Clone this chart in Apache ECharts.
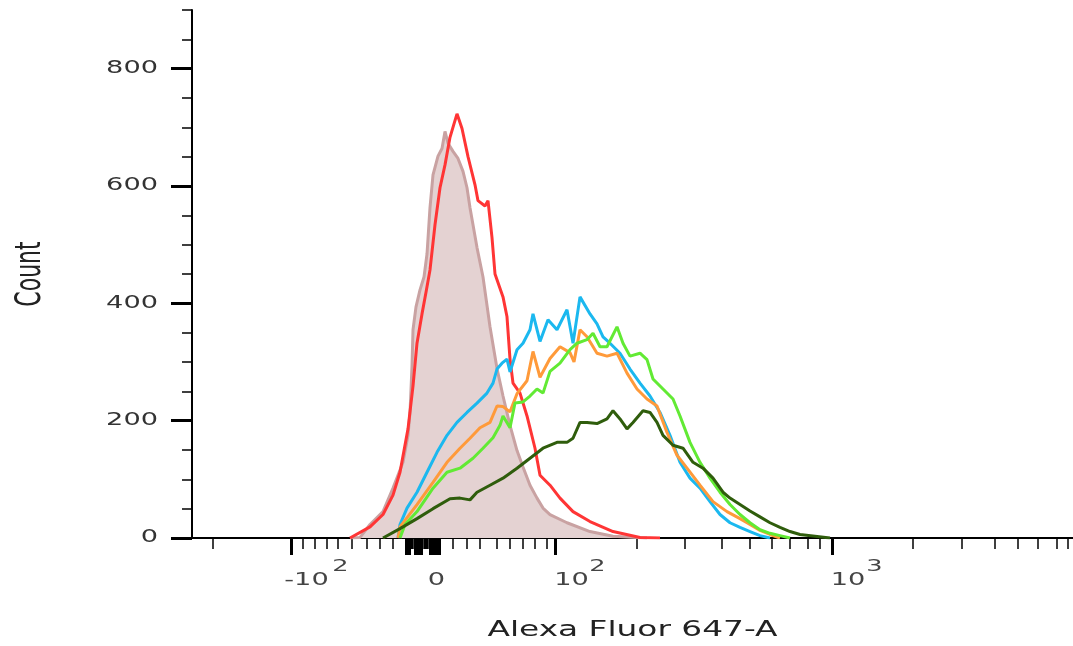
<!DOCTYPE html>
<html>
<head>
<meta charset="utf-8">
<script src="https://cdn.jsdelivr.net/npm/echarts@6/dist/echarts.min.js"></script>
<style>
html,body{margin:0;padding:0;background:#fff;}
#chart{width:1073px;height:646px;}
</style>
</head>
<body>
<div id="chart"></div>
<script>
// X values are display channels of the biexponential Alexa Fluor 647-A scale (0..881)
const xMin = 0, xMax = 881;
const yMin = 0, yMax = 900;

// tick labels (mantissa and exponent) and their positions (channels)
const xLabelPos = [114.5, 244.5, 379.5, 656];
const xLabelText = ['-10', '0', '10', '10'];
const xExpPos = [148.5, 405.5, 682.5];
const xExpText = ['2', '2', '3'];
const xMajorTicks = [99, 214, 217, 223, 226, 229, 238, 241, 244, 247, 363, 640];
const xMinorTicks = [21, 111, 123, 135, 146, 160, 175, 188, 201, 219, 220, 221, 232, 233, 234, 235, 236,
  261, 275, 288, 305, 318, 331, 343, 355, 445, 493, 530, 558, 580, 598, 616, 628,
  721, 770, 803, 826, 846, 865, 876];
const yLabels = [0, 200, 400, 600, 800];
const yMinorTicks = [50, 100, 150, 250, 300, 350, 450, 500, 550, 650, 700, 750, 850, 900];

// series: channel positions and counts
const shadedX = [158,168,178,191,201,211,216,218,220,221,224,228,232,235,238,241,246,250,253,256,261,266,271,275,278,285,291,298,305,311,318,325,331,338,345,351,358,375,398,421,455];
const shadedY = [0,1,23,45,85,129,175,214,293,355,394,423,445,484,563,619,651,664,693,673,659,647,625,597,563,495,445,360,289,242,192,149,121,90,68,51,40,26,11,3,0];

const redX = [158,178,191,201,208,216,221,225,230,234,238,243,248,253,258,262,265,270,276,283,286,293,296,300,303,311,315,318,321,328,335,343,348,358,368,381,398,421,448,468];
const redY = [0,19,40,73,112,186,259,332,382,419,457,534,597,636,683,706,723,698,650,602,575,566,575,512,450,411,377,305,264,247,208,153,107,90,68,45,28,11,1,0];

const blueX = [206,208,215,225,235,245,255,265,275,285,295,301,305,310,315,318,325,331,338,341,348,356,365,375,381,388,398,405,411,418,428,438,448,458,468,478,488,498,508,518,528,538,548,558,568,578];
const blueY = [0,23,51,78,112,146,175,197,214,230,247,264,288,298,305,283,321,332,355,382,335,372,355,389,332,411,382,365,343,332,315,288,264,242,214,175,129,102,85,62,40,26,18,11,4,0];

const orangeX = [206,208,225,241,255,268,278,288,298,305,311,318,325,335,341,348,358,368,378,382,388,395,405,415,425,435,445,455,465,475,485,495,508,521,535,548,558,568,578,588];
const orangeY = [0,19,57,95,129,153,170,188,197,225,224,215,246,268,318,274,306,326,316,300,355,343,315,310,315,281,254,237,225,180,141,119,90,62,45,33,23,13,6,0];

const limeX = [208,213,225,241,255,268,281,291,301,308,311,318,323,331,338,345,351,358,368,378,385,395,401,408,415,425,431,438,448,455,461,471,481,488,498,508,518,528,538,548,558,568,578,588,598];
const limeY = [0,23,45,85,112,119,136,153,171,192,208,188,230,232,242,254,247,284,298,321,332,338,349,326,326,360,332,310,315,304,271,254,237,208,163,129,102,78,57,40,26,14,8,4,0];

const darkX = [191,208,225,241,258,268,278,285,298,311,325,338,351,365,375,381,388,395,405,415,421,428,435,441,451,458,465,471,481,491,501,511,521,531,538,548,558,568,578,588,598,608,623,638];
const darkY = [0,16,33,50,67,68,65,78,90,102,119,136,153,163,163,170,197,197,195,203,217,203,186,197,217,214,197,175,158,153,129,119,102,78,68,57,46,36,26,18,11,6,3,0];

function pairs(xs, ys) { return xs.map((x, i) => [x, ys[i]]); }

// The reference's lettering is horizontally stretched; reproduce by widening glyphs about their anchor.
const textStretch = 1.6;
(function () {
  const proto = CanvasRenderingContext2D.prototype;
  const orig = proto.fillText;
  proto.fillText = function (t, x, y, mw) {
    const m = this.getTransform();
    const ax = m.a * x + m.c * y + m.e, ay = m.b * x + m.d * y + m.f;
    this.save();
    this.setTransform(textStretch, 0, 0, 1, ax - textStretch * ax, 0);
    this.transform(m.a, m.b, m.c, m.d, m.e, m.f);
    if (mw === undefined) orig.call(this, t, x, y); else orig.call(this, t, x, y, mw);
    this.restore();
  };
})();

const font = 'DejaVu Sans';
const chart = echarts.init(document.getElementById('chart'), null, {renderer: 'canvas'});

function lineSeries(name, xs, ys, color, width, extra) {
  return Object.assign({
    name: name, type: 'line', data: pairs(xs, ys), showSymbol: false, symbol: 'none',
    xAxisIndex: 0, yAxisIndex: 0, animation: false,
    lineStyle: {color: color, width: width}, itemStyle: {color: color}
  }, extra || {});
}

chart.setOption({
  animation: false,
  grid: {left: 192, right: 0, top: 10, bottom: 103, containLabel: false},
  xAxis: [
    {
      type: 'value', min: xMin, max: xMax, position: 'bottom',
      name: 'Alexa Fluor 647-A', nameLocation: 'middle', nameGap: 82,
      nameTextStyle: {fontFamily: font, fontSize: 20.5, color: '#222'},
      axisLine: {show: true, onZero: false, lineStyle: {color: '#a8b878', width: 2}},
      axisTick: {show: true, customValues: xMajorTicks, length: 17, lineStyle: {color: '#000', width: 3}},
      axisLabel: {
        show: true, customValues: xLabelPos, margin: 34,
        fontFamily: font, fontSize: 17, color: '#444',
        formatter: function (v) { const i = xLabelPos.indexOf(v); return i < 0 ? '' : xLabelText[i]; }
      },
      splitLine: {show: false}
    },
    {
      type: 'value', min: xMin, max: xMax, position: 'bottom',
      axisLine: {show: false},
      axisTick: {show: true, customValues: xMinorTicks, length: 11, lineStyle: {color: '#000', width: 1.5}},
      axisLabel: {
        show: true, customValues: xExpPos, margin: 21,
        fontFamily: font, fontSize: 16, color: '#444',
        formatter: function (v) { const i = xExpPos.indexOf(v); return i < 0 ? '' : xExpText[i]; }
      },
      splitLine: {show: false}
    },
    {
      type: 'value', min: xMin, max: xMax, position: 'top',
      axisLine: {show: true, lineStyle: {color: '#000', width: 2}},
      axisTick: {show: false}, axisLabel: {show: false}, splitLine: {show: false}
    }
  ],
  yAxis: [
    {
      type: 'value', min: yMin, max: yMax, position: 'left',
      name: 'Count', nameLocation: 'middle', nameGap: 150, nameRotate: 90,
      nameTextStyle: {fontFamily: font, fontSize: 22, color: '#222'},
      axisLine: {show: true, onZero: false, lineStyle: {color: '#000', width: 2}},
      axisTick: {show: true, customValues: yLabels, length: 21, lineStyle: {color: '#000', width: 3}},
      axisLabel: {show: true, customValues: yLabels, margin: 34, fontFamily: font, fontSize: 17, color: '#333'},
      splitLine: {show: false}
    },
    {
      type: 'value', min: yMin, max: yMax, position: 'left',
      axisLine: {show: false},
      axisTick: {show: true, customValues: yMinorTicks, length: 10, lineStyle: {color: '#000', width: 1.5}},
      axisLabel: {show: false}, splitLine: {show: false}
    }
  ],
  series: [
    lineSeries('Unstained', shadedX, shadedY, '#c9a2a2', 3, {areaStyle: {color: '#e4d2d2', opacity: 1}, z: 1}),
    lineSeries('Sample 1', redX, redY, '#ff3535', 3, {z: 2}),
    lineSeries('Sample 2', blueX, blueY, '#1bb8ef', 3, {z: 3}),
    lineSeries('Sample 3', orangeX, orangeY, '#ff9a3a', 3, {z: 4}),
    lineSeries('Sample 4', limeX, limeY, '#62ea34', 3, {z: 5}),
    lineSeries('Sample 5', darkX, darkY, '#2f5d0c', 3, {z: 6})
  ]
});
</script>
</body>
</html>
